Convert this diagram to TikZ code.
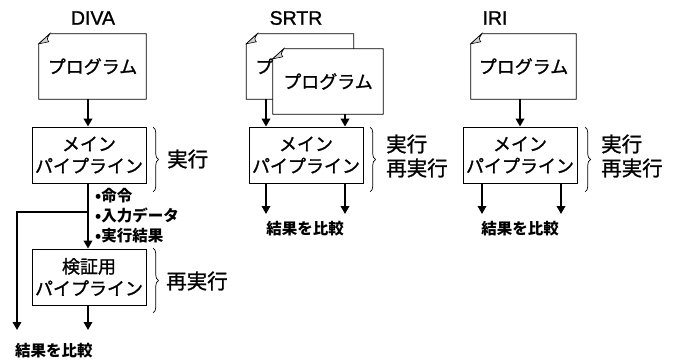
\documentclass[tikz,border=0pt]{standalone}
\usepackage{fontspec}
\setmainfont{Liberation Sans}
\newfontfamily\titlefont[FakeBold=1.2]{Liberation Sans}
\newfontfamily\jp[FakeBold=1.2]{Noto Sans CJK JP}
\newfontfamily\jpb{Noto Sans CJK JP}
\usetikzlibrary{arrows.meta,decorations.pathreplacing,calc}
\tikzset{
  boxline/.style={draw, line width=0.8pt},
  pbox/.style={boxline, fill=white, inner sep=0pt, minimum width=114pt, minimum height=56pt, align=center, font=\jp\fontsize{18}{22}\selectfont},
  docnode/.style={inner sep=0pt, minimum width=107pt, minimum height=65pt, font=\jp\fontsize{18}{22}\selectfont},
  title/.style={font=\titlefont\fontsize{19.5}{22}\selectfont},
  lbl/.style={font=\jp\fontsize{20.5}{24}\selectfont, anchor=west, align=left, inner sep=0pt},
  small/.style={font=\jpb\bfseries\fontsize{15.5}{20}\selectfont, inner sep=0pt},
  arr/.style={line width=1.8pt, -{Triangle[length=8pt,width=8.5pt]}},
  plain/.style={line width=1.8pt},
  bracestyle/.style={line width=0.7pt, decorate, decoration={brace, amplitude=5.5pt, aspect=0.5}},
  fold/.style={draw, line width=0.6pt, fill=gray!35}
}
\newcommand\docshape[1]{%
  \draw[boxline, fill=white] ($(#1.north west)+(0,10)$) -- ($(#1.north west)+(11,0)$) -- (#1.north east) -- (#1.south east) -- (#1.south west) -- cycle;
  \draw[fold] ($(#1.north west)+(0,10)$) -- ($(#1.north west)+(11,0)$) .. controls ($(#1.north west)+(8,5)$) .. ($(#1.north west)+(10,8)$) -- cycle;
}
\begin{document}
\begin{tikzpicture}[x=1pt,y=-1pt]
\useasboundingbox (0,0) rectangle (680,361);
% ---------------- DIVA ----------------
\node[title] (tD) at (93,18) {DIVA};
\path (92.5,66.5) node[docnode] (dD) {};
\docshape{dD}
\node[docnode] at (dD) {プログラム};
\node[pbox] (mD) at (89,155) {メイン\\パイプライン};
\node[pbox] (vD) at (89,277) {検証用\\パイプライン};
\draw[bracestyle] (153,127) -- (153,192);
\node[lbl] (lD1) at (167,159) {実行};
\draw[bracestyle] (153,248) -- (153,313);
\node[lbl] (lD2) at (166,281) {再実行};
\coordinate (xD) at (88,0);
\draw[arr] (xD |- dD.south) -- (xD |- mD.north);
\coordinate (brD) at (88,212);
\draw[plain] (xD |- mD.south) -- (brD);
\draw[arr] (xD |- mD.south) -- (xD |- vD.north);
\coordinate (eD1) at (17,330);
\coordinate (eD2) at (88,330);
\draw[arr] (brD) -| (eD1);
\draw[arr] (xD |- vD.south) -- (eD2);
\node[small, anchor=west, align=left] (bul) at (95,216) {•命令\\•入力データ\\•実行結果};
\node[small] (rD) at (54,351) {結果を比較};
% ---------------- SRTR ----------------
\node[title] (tS) at (296,18) {SRTR};
\path (300,66.5) node[docnode] (dS1) {};
\docshape{dS1}
\node[docnode] at (dS1) {プログラム};
\path (328,81.5) node[docnode, minimum width=110pt] (dS2) {};
\docshape{dS2}
\node[docnode, minimum width=110pt] at (dS2) {プログラム};
\node[pbox] (mS) at (306,155) {メイン\\パイプライン};
\draw[bracestyle] (370,127) -- (370,192);
\node[lbl] (lS) at (386,156) {実行\\再実行};
\coordinate (xS1) at (266,0);
\coordinate (xS2) at (345,0);
\draw[arr] (xS1 |- dS1.south) -- (xS1 |- mS.north);
\draw[arr] (xS2 |- dS2.south) -- (xS2 |- mS.north);
\coordinate (eS1) at (266,214);
\coordinate (eS2) at (345,214);
\draw[arr] (xS1 |- mS.south) -- (eS1);
\draw[arr] (xS2 |- mS.south) -- (eS2);
\node[small] (rS) at (305,229) {結果を比較};
% ---------------- IRI ----------------
\node[title] (tI) at (495,18) {IRI};
\path (523.5,66.5) node[docnode, minimum width=105pt] (dI) {};
\docshape{dI}
\node[docnode, minimum width=105pt] at (dI) {プログラム};
\node[pbox] (mI) at (520,155) {メイン\\パイプライン};
\draw[bracestyle] (585,127) -- (585,192);
\node[lbl] (lI) at (601,156) {実行\\再実行};
\coordinate (xI) at (520,0);
\draw[arr] (xI |- dI.south) -- (xI |- mI.north);
\coordinate (xI1) at (482,0);
\coordinate (xI2) at (561,0);
\coordinate (eI1) at (482,214);
\coordinate (eI2) at (561,214);
\draw[arr] (xI1 |- mI.south) -- (eI1);
\draw[arr] (xI2 |- mI.south) -- (eI2);
\node[small] (rI) at (520,229) {結果を比較};
\end{tikzpicture}
\end{document}
